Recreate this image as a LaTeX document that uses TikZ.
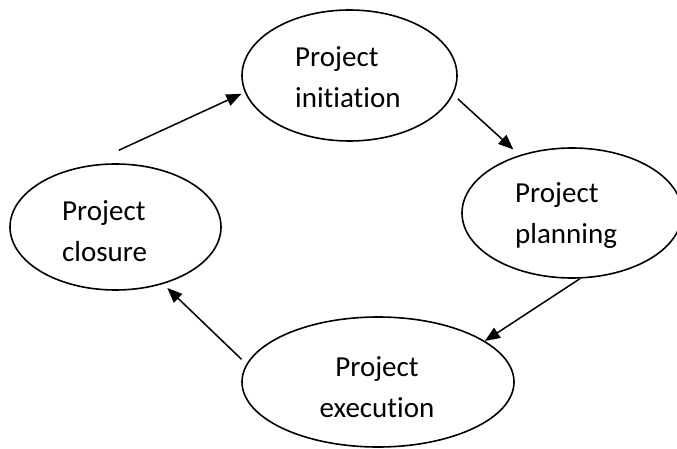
\documentclass[tikz,border=0pt]{standalone}
\usepackage{fontspec}
\setmainfont{Carlito}[Ligatures=NoCommon]
\usetikzlibrary{shapes.geometric,arrows.meta}

\tikzset{
  phase/.style={draw, ellipse, line width=1.6pt, inner sep=0pt},
  lbl/.style={font=\fontsize{29}{41}\selectfont, inner sep=0pt},
  arr/.style={-{Triangle[length=15pt,width=12pt]}, line width=1.5pt}
}

\begin{document}
\begin{tikzpicture}[x=1pt,y=1pt]
\useasboundingbox (0,0) rectangle (677,448);
% the four phases
\node[phase, minimum width=215pt, minimum height=131pt] (init) at (349.5,372.5) {};
\node[phase, minimum width=220pt, minimum height=130pt] (plan) at (572,235) {};
\node[phase, minimum width=272pt, minimum height=130pt] (exec) at (378,66) {};
\node[phase, minimum width=211pt, minimum height=126pt] (clos) at (115.5,221) {};
% labels (base = last line)
\node[lbl, anchor=base west, align=left] (initText) at (295,340) {Project\\initiation};
\node[lbl, anchor=base west, align=left] (planText) at (515,205) {Project\\planning};
\node[lbl, anchor=base, align=center] (execText) at (377,31) {Project\\execution};
\node[lbl, anchor=base west, align=left] (closText) at (62,187) {Project\\closure};
% cycle
\draw[arr] ([yshift=13pt]clos.87) -- ([xshift=-4pt]init.190);
\draw[arr] ([xshift=7pt]init.-13) -- ([shift={(-5pt,6pt)}]plan.133);
\draw[arr] (plan.-83) -- (exec.21);
\draw[arr] ([xshift=-8pt]exec.170) -- ([shift={(4pt,-4pt)}]clos.-50);
\end{tikzpicture}
\end{document}
